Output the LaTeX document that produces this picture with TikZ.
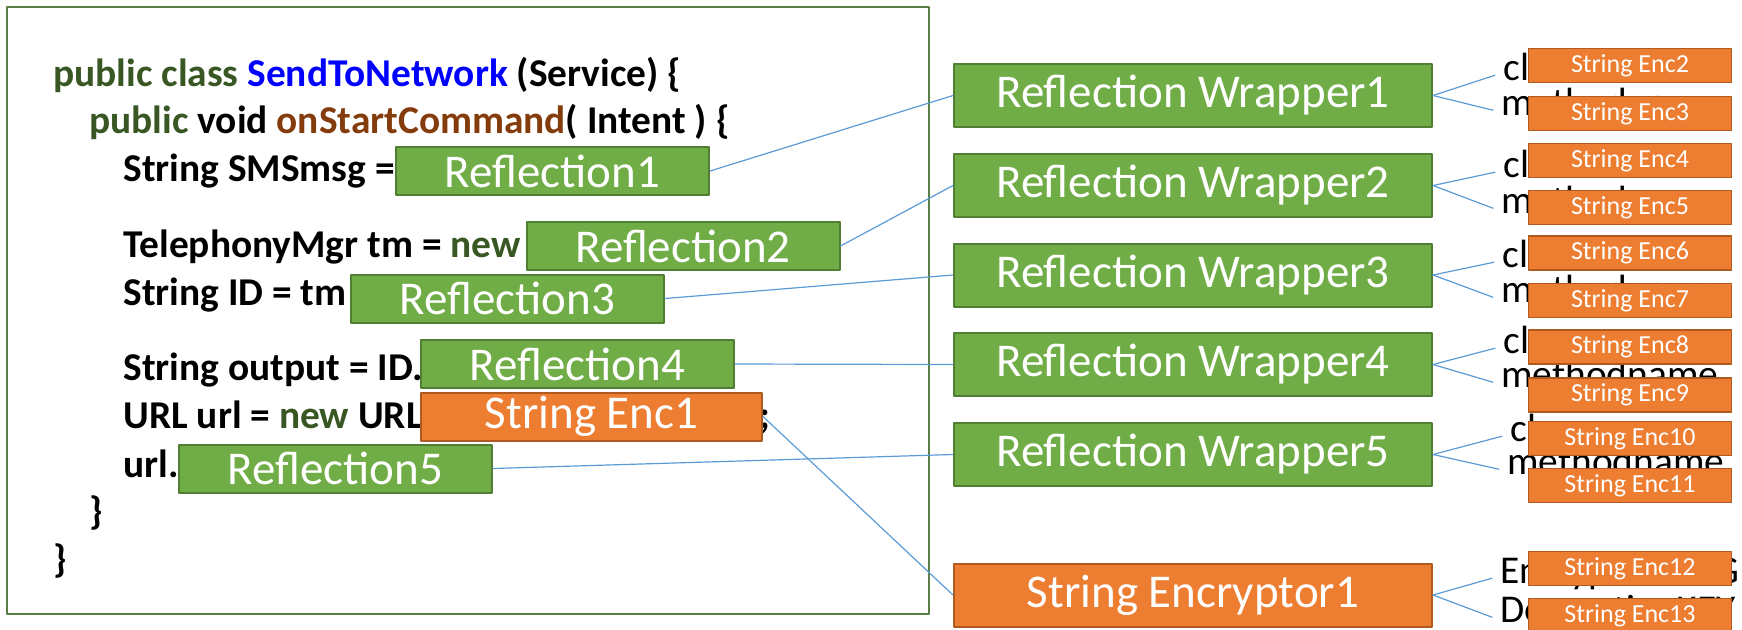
\documentclass[tikz,border=0pt]{standalone}
\usepackage{fontspec}
\setmainfont{Carlito}

\definecolor{kwgreen}{HTML}{385723}
\definecolor{clsblue}{HTML}{0000FF}
\definecolor{mthbrown}{HTML}{843C0C}
\definecolor{boxgreen}{HTML}{70AD47}
\definecolor{boxgreenline}{HTML}{507E32}
\definecolor{boxorange}{HTML}{ED7D31}
\definecolor{boxorangeline}{HTML}{AE5A21}
\definecolor{connblue}{HTML}{5B9BD5}
\definecolor{framegreen}{HTML}{5A7F46}

\begin{document}
\begin{tikzpicture}[x=0.5pt, y=-0.5pt, line cap=round, line join=round,
    codeline/.style={anchor=base west, inner sep=0pt, font=\fontsize{19.7}{24}\selectfont\bfseries},
    reflbox/.style={draw=boxgreenline, fill=boxgreen, line width=1pt, text=white, minimum width=156.5pt, minimum height=24pt, inner sep=0pt, font=\fontsize{23.5}{28}\selectfont},
    encbox/.style={reflbox, draw=boxorangeline, fill=boxorange},
    wrapbox/.style={reflbox, minimum width=239pt, minimum height=31.5pt},
    smallenc/.style={encbox, minimum width=101.5pt, minimum height=17pt, line width=0.8pt, font=\fontsize{13}{15}\selectfont},
    nametext/.style={anchor=base west, inner xsep=4pt, inner ysep=0pt, font=\fontsize{19.7}{24}\selectfont},
    conn/.style={draw=connblue, line width=0.6pt}]

    \useasboundingbox (0,0) rectangle (1742,629);

    % code frame
    \draw[framegreen, line width=0.8pt] (7,7) rectangle (929,614);

    % the code lines
    \node[codeline] (ln1) at (53,86) {\textcolor{kwgreen}{public class} \textcolor{clsblue}{SendToNetwork} (Service) \{};
    \node[codeline] (ln2) at (89,133) {\textcolor{kwgreen}{public} void \textcolor{mthbrown}{onStartCommand}( Intent ) \{};
    \node[codeline] (ln3) at (123,181) {String SMSmsg =};
    \node[codeline] (ln4) at (123,257) {TelephonyMgr tm = \textcolor{kwgreen}{new}};
    \node[codeline] (ln5) at (123,305) {String ID = tm};
    \node[codeline] (ln6) at (123,380) {String output = ID.};
    \node[codeline] (ln7) at (123,428) {URL url = \textcolor{kwgreen}{new} URL};
    \node[codeline, anchor=base east] (ln7end) at (771,428) {;};
    \node[codeline] (ln8) at (123,477) {url.};
    \node[codeline] (ln9) at (89,524) {\}};
    \node[codeline] (ln10) at (53,572) {\}};

    % boxes over the code
    \node[reflbox] (refl1) at (552.5,171) {Reflection1};
    \node[reflbox] (refl2) at (683,246) {Reflection2};
    \node[reflbox] (refl3) at (507.5,298.5) {Reflection3};
    \node[reflbox] (refl4) at (577.5,364) {Reflection4};
    \node[encbox, minimum width=170.5pt] (enc1) at (591.5,416.5) {String Enc1};
    \node[reflbox] (refl5) at (335.5,468.5) {Reflection5};

    % wrappers with their class and method names
    \foreach \i/\y/\cx/\cy/\mx/\my in {1/95.5/1495/80/1493/115, 2/185.5/1495/177/1493/213,
        3/275/1494/267/1493/302, 4/364.5/1495/353/1493/387, 5/454.5/1502/441/1499/474} {
        \node[wrapbox] (wrap\i) at (1193,\y) {Reflection Wrapper\i};
        \node[nametext] (cls\i) at (\cx,\cy) {classname};
        \node[nametext] (mth\i) at (\mx,\my) {methodname};
        \draw[conn] (wrap\i.east) -- (cls\i.mid west);
        \draw[conn] (wrap\i.east) -- (mth\i.mid west);
        \draw[conn] (refl\i.east) -- (wrap\i.west);
    }

    % encryptor
    \node[encbox, minimum width=239pt, minimum height=31.5pt] (encryptor) at (1193,595) {String Encryptor1};
    \node[nametext] (encmsg) at (1492,583) {EncryptedMSG};
    \node[nametext] (deckey) at (1492,622) {DecryptionKEY};
    \draw[conn] (encryptor.east) -- (encmsg.mid west);
    \draw[conn] (encryptor.east) -- (deckey.mid west);
    \draw[conn] (enc1.east) -- (encryptor.west);

    % small string encryptors on the right
    \foreach \i/\y in {2/65.5, 3/113.5, 4/160.5, 5/207.5, 6/253, 7/300.5, 8/347,
        9/395, 10/438.5, 11/485.5, 12/568.5, 13/615.5}
        \node[smallenc] (enc\i) at (1630,\y) {String Enc\i};

\end{tikzpicture}
\end{document}
